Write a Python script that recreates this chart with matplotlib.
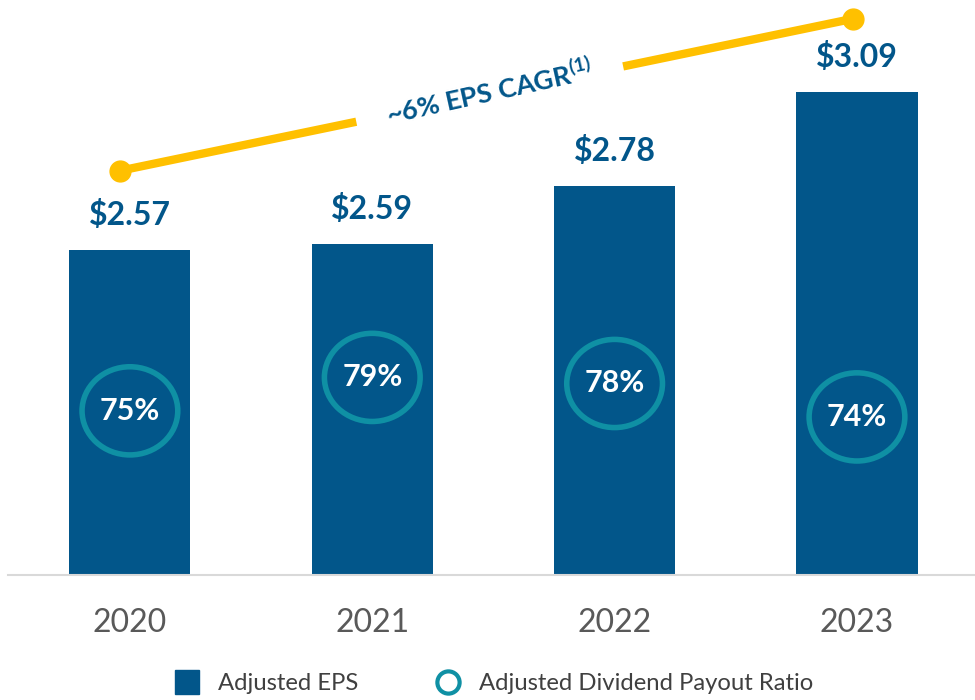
import numpy as np

import matplotlib
matplotlib.use('Agg')

from matplotlib import pyplot as plt
from matplotlib.patches import Ellipse
from matplotlib.lines import Line2D

# data
years = ["2020", "2021", "2022", "2023"]
adj_eps = [2.57, 2.59, 2.78, 3.09]
payout_ratio = [75, 79, 78, 74]
cagr_label = r"~6% EPS CAGR$^{\mathbf{(1)}}$"

# layout helpers (where the rings sit inside each bar)
ring_y = [2.04, 2.15, 2.13, 2.02]

BAR_COLOR = "#02568A"
RING_COLOR = "#0F90A4"
GOLD = "#FFC000"
GREY_TXT = "#595959"

plt.rcParams['font.family'] = ['Lato', 'DejaVu Sans']
plt.rcParams['mathtext.fontset'] = 'custom'
plt.rcParams['mathtext.rm'] = 'Lato'
plt.rcParams['mathtext.bf'] = 'Lato:bold'

fig = plt.figure(figsize=(9.75, 7.0), dpi=100)
ax = fig.add_axes([8 / 975, 125 / 700, 967 / 975, 575 / 700])

x = np.arange(len(years))
ax.bar(x, adj_eps, width=0.5, color=BAR_COLOR, zorder=2)

ax.set_xlim(-0.503, 3.487)
ax.set_ylim(1.5, 1.5 + 575 / 304)

# value labels above the bars
for xi, v in zip(x, adj_eps):
    ax.annotate("${:.2f}".format(v), (xi, v), xytext=(0, 25), textcoords='offset points',
                ha='center', va='center', fontsize=23, fontweight='bold', color=BAR_COLOR)

# payout ratio rings
for xi, yy, p in zip(x, ring_y, payout_ratio):
    ax.add_patch(Ellipse((xi, yy), width=0.395, height=0.29, fill=False,
                         edgecolor=RING_COLOR, linewidth=4, zorder=3))
    ax.text(xi, yy, "{}%".format(p), ha='center', va='center', fontsize=22,
            fontweight='bold', color='white', zorder=4)

# CAGR trend line (with a gap for the label)
x0, y0 = -0.04, adj_eps[0] + 0.26
x1, y1 = 2.985, adj_eps[-1] + 0.24
t = np.array([0.0, 0.322, 0.686, 1.0])
lx = x0 + (x1 - x0) * t
ly = y0 + (y1 - y0) * t
ax.plot(lx[:2], ly[:2], color=GOLD, linewidth=6, solid_capstyle='butt', zorder=5)
ax.plot(lx[2:], ly[2:], color=GOLD, linewidth=6, solid_capstyle='butt', zorder=5)
ax.plot([x0, x1], [y0, y1], 'o', color=GOLD, markersize=15, zorder=6)
ax.text((lx[1] + lx[2]) / 2, (ly[1] + ly[2]) / 2 + 0.01, cagr_label, rotation=12.5,
        rotation_mode='anchor', ha='center', va='center', fontsize=19.5,
        fontweight='bold', color=BAR_COLOR)

# axes styling
for s in ['top', 'right', 'left']:
    ax.spines[s].set_visible(False)
ax.spines['bottom'].set_color('#D9D9D9')
ax.spines['bottom'].set_linewidth(1.5)
ax.set_yticks([])
ax.set_xticks(x)
ax.set_xticklabels(years, fontsize=23, color=GREY_TXT)
ax.tick_params(axis='x', length=0, pad=24)

handles = [
    Line2D([], [], marker='s', linestyle='none', markersize=17,
           markerfacecolor=BAR_COLOR, markeredgecolor=BAR_COLOR),
    Line2D([], [], marker='o', linestyle='none', markersize=16,
           markerfacecolor='white', markeredgecolor=RING_COLOR, markeredgewidth=3),
]
fig.legend(handles, ["Adjusted EPS", "Adjusted Dividend Payout Ratio"],
           loc='center', bbox_to_anchor=(0.506, 0.023), ncol=2, frameon=False,
           fontsize=17.2, labelcolor='#404040', handlelength=1.1, handletextpad=0.75,
           columnspacing=3.2)

fig.savefig("out.png", dpi=100)
plt.close(fig)
